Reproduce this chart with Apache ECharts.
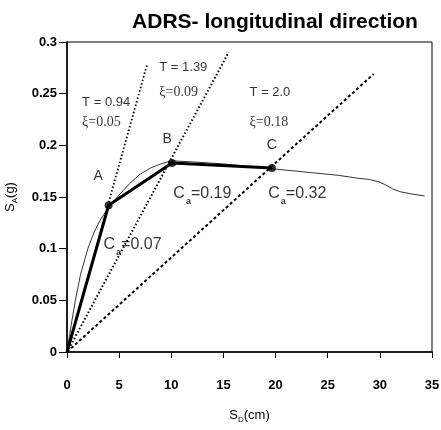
<!DOCTYPE html>
<html><head><meta charset="utf-8">
<script src="https://cdn.jsdelivr.net/npm/echarts@6/dist/echarts.min.js"></script>
<style>html,body{margin:0;padding:0;background:#fff}#c{width:441px;height:430px}</style>
</head><body><div id="c"></div>
<script>
// capacity curve (thin)
const capD = [0, 0.4, 0.8, 1.3, 2.0, 2.6, 3.2, 3.8, 4.4, 5.0, 6.0, 7.0, 8.0, 9.0, 10.0, 12.0, 15.0, 18.0, 20.0, 23.0, 26.0, 28.0, 29.0, 29.8, 30.5, 31.2, 32.0, 33.0, 34.3];
const capA = [0, 0.026, 0.050, 0.075, 0.100, 0.116, 0.128, 0.137, 0.145, 0.152, 0.163, 0.172, 0.178, 0.182, 0.185, 0.184, 0.182, 0.179, 0.177, 0.174, 0.171, 0.168, 0.167, 0.165, 0.162, 0.158, 0.155, 0.153, 0.151];
// bilinear idealisation (thick)
const biD = [0, 3.99, 10.07, 19.65];
const biA = [0, 0.142, 0.183, 0.178];
const pointNames = ['A', 'B', 'C'];
// demand lines from origin (end points)
const demandEndD = [7.67, 15.5, 29.4];
const demandEndA = [0.278, 0.290, 0.269];
// annotations
const tLabels = ['T = 0.94', 'T = 1.39', 'T = 2.0'];
const tX = [1.45, 8.85, 17.5];
const tY = [0.242, 0.275, 0.251];
const xiLabels = ['ξ=0.05', 'ξ=0.09', 'ξ=0.18'];
const xiY = [0.222, 0.251, 0.222];
const caLabels = ['0.07', '0.19', '0.32'];
const caX = [3.5, 10.2, 19.3];
const caY = [0.104, 0.153, 0.153];
const ptLabelX = [3.0, 9.6, 19.65];
const ptLabelY = [0.170, 0.206, 0.200];
const xTicks = [0, 5, 10, 15, 20, 25, 30, 35];
const yTicks = [0, 0.05, 0.1, 0.15, 0.2, 0.25, 0.3];

const FONT = 'Arial, "Liberation Sans", sans-serif';
const SERIF = '"Times New Roman", "Liberation Serif", serif';
const chart = echarts.init(document.getElementById('c'));

const zip = (a, b) => a.map((v, i) => [v, b[i]]);
const demandStyles = [
  {type: [1.5, 2.2], width: 1.8},
  {type: [1.5, 2.2], width: 2},
  {type: [3, 2.5], width: 2}
];
const demandSeries = demandEndD.map((d, i) => ({
  type: 'line', data: [[0, 0], [d, demandEndA[i]]], symbol: 'none', silent: true,
  lineStyle: Object.assign({color: '#000'}, demandStyles[i]), z: 2
}));

const textSeries = (data, label) => ({
  type: 'scatter', data: data, symbolSize: 0, silent: true, z: 10,
  label: Object.assign({show: true, position: 'right', distance: 0, color: '#000'}, label)
});

chart.setOption({
  animation: false,
  title: {
    text: 'ADRS- longitudinal direction', left: 270, top: 7, textAlign: 'center',
    textStyle: {fontFamily: FONT, fontSize: 21, fontWeight: 'bold', color: '#000'}
  },
  grid: {left: 67, right: 9, top: 42, bottom: 78, show: true, borderColor: '#000', borderWidth: 1,
    containLabel: false, outerBoundsMode: 'none'},
  xAxis: {
    type: 'value', min: 0, max: 35, interval: 5,
    name: '{m|S}{s|D}{m|(cm)}', nameLocation: 'middle', nameGap: 54,
    nameTextStyle: {rich: {m: {fontFamily: FONT, fontSize: 13, color: '#000'}, s: {fontFamily: FONT, fontSize: 8, color: '#000', padding: [10, 0, 0, 0]}}},
    axisLine: {lineStyle: {color: '#000', width: 1.5}},
    axisTick: {inside: false, length: 6, lineStyle: {color: '#000'}},
    splitLine: {show: false},
    axisLabel: {margin: 27, fontFamily: FONT, fontSize: 13, fontWeight: 'bold', color: '#000',
      formatter: v => xTicks.includes(v) ? String(v) : ''}
  },
  yAxis: {
    type: 'value', min: 0, max: 0.3, interval: 0.05,
    name: '{m|S}{s|A}{m|(g)}', nameLocation: 'middle', nameGap: 48, nameRotate: 90,
    nameTextStyle: {rich: {m: {fontFamily: FONT, fontSize: 13, color: '#000'}, s: {fontFamily: FONT, fontSize: 8, color: '#000', padding: [10, 0, 0, 0]}}},
    axisLine: {lineStyle: {color: '#000', width: 1.5}},
    axisTick: {inside: false, length: 8, lineStyle: {color: '#000'}},
    splitLine: {show: false},
    axisLabel: {margin: 10, fontFamily: FONT, fontSize: 13, fontWeight: 'bold', color: '#000',
      formatter: v => { const t = yTicks.find(y => Math.abs(y - v) < 1e-9); return t === undefined ? '' : String(+t.toFixed(2)); }}
  },
  series: [
    ...demandSeries,
    {type: 'line', data: zip(capD, capA), symbol: 'none', silent: true,
      lineStyle: {color: '#000', width: 0.8}, z: 3},
    {type: 'line', data: zip(biD, biA), symbol: 'none', silent: true,
      lineStyle: {color: '#000', width: 3}, z: 4},
    {type: 'scatter', data: zip(biD.slice(1), biA.slice(1)), symbol: 'circle', symbolSize: 8, silent: true,
      itemStyle: {color: '#000'}, z: 5},
    textSeries(tLabels.map((t, i) => ({value: [tX[i], tY[i]], name: t})),
      {formatter: p => p.name, fontFamily: FONT, fontSize: 13}),
    textSeries(xiLabels.map((t, i) => ({value: [tX[i], xiY[i]], name: t})),
      {formatter: p => p.name, fontFamily: SERIF, fontSize: 14}),
    textSeries(pointNames.map((t, i) => ({value: [ptLabelX[i], ptLabelY[i]], name: t})),
      {position: 'inside', formatter: p => p.name, fontFamily: FONT, fontSize: 14}),
    textSeries(caLabels.map((t, i) => ({value: [caX[i], caY[i]], name: t})),
      {formatter: p => '{c|C}{s|a}{c|=' + p.name + '}',
       rich: {c: {fontFamily: FONT, fontSize: 16, color: '#000'},
              s: {fontFamily: FONT, fontSize: 9, color: '#000', fontWeight: 'bold', padding: [15, 0, 0, 1]}}})
  ]
});
</script></body></html>
